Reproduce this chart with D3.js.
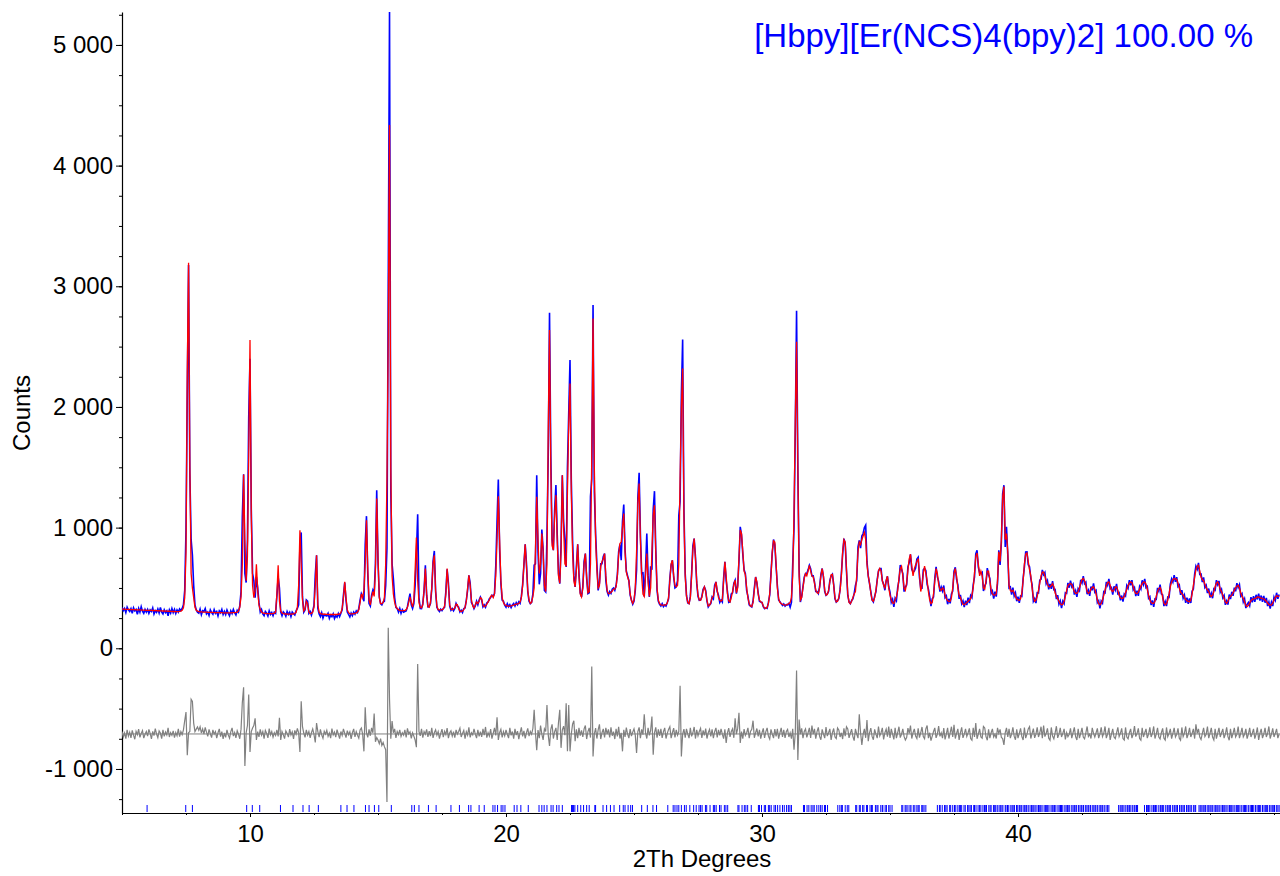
<!DOCTYPE html>
<html>
<head>
<meta charset="utf-8">
<script src="https://cdn.jsdelivr.net/npm/d3@7"></script>
<style>
  body { margin: 0; background: #fff; }
  svg { display: block; }
  text { font-family: "Liberation Sans", Arial, sans-serif; }
</style>
</head>
<body>
<svg id="chart" width="1280" height="876"></svg>
<script>
// grille 2Th commune aux trois courbes (pas de 0.05 deg a partir de 5)
var start2Th = 5, step2Th = 0.05;

// intensites observees (une ligne = un degre)
var obsCounts = [
  338,312,330,296,341,318,305,329,290,335,310,322,281,330,300,345,308,290,322,300, // 5
  322,290,318,305,335,284,312,298,326,292,338,300,285,320,296,310,270,318,292,330, // 6
  296,322,288,318,300,326,312,330,360,480,980,2115,3176,1450,900,771,520,360,320,298, // 7
  290,325,278,312,305,330,285,300,272,318,296,282,320,290,305,268,310,294,322,280, // 8
  306,280,318,292,270,310,288,322,295,276,315,300,352,470,1090,1443,620,545,900,1915, // 9
  2400,1150,620,560,420,591,500,380,300,322,285,270,305,292,268,310,280,296,270,300, // 10
  290,430,591,500,300,270,302,288,265,305,280,298,262,300,286,276,310,330,360,860, // 11
  960,430,300,318,400,390,290,305,275,310,356,610,771,330,285,262,295,250,280,272, // 12
  268,290,248,275,262,285,246,270,258,288,262,290,318,440,545,400,300,280,260,292, // 13
  270,300,282,310,296,330,400,453,430,390,860,1095,620,370,350,440,481,453,700,1310, // 14
  720,430,370,360,384,390,520,830,3000,5274,1300,700,578,420,340,329,300,330,290,320, // 15
  300,305,310,345,400,453,360,330,370,520,770,1111,420,330,329,370,480,688,440,343, // 16
  345,370,490,720,807,470,340,318,305,325,312,330,340,470,655,540,350,315,330,310, // 17
  330,372,350,340,301,315,296,330,335,400,480,605,540,380,360,328,350,390,360,400, // 18
  425,400,343,360,340,375,384,410,420,440,430,453,680,1050,1399,820,540,400,390,357, // 19
  340,370,345,362,338,360,372,350,378,360,385,372,430,530,690,862,700,470,390,370, // 20
  380,450,690,700,1434,800,530,620,984,820,480,467,930,1600,2781,1600,900,813,1150,1352, // 21
  950,620,536,850,1434,1050,900,674,1500,1950,2388,1400,900,600,509,680,862,620,460,426, // 22
  510,720,785,580,453,460,1260,1400,2844,1300,950,700,480,540,700,700,760,785,560,470, // 23
  440,470,455,490,500,480,520,610,800,860,730,1050,1191,820,640,600,560,440,400,365, // 24
  390,480,650,1250,1454,950,620,625,430,650,951,600,426,680,650,1150,1302,820,480,390, // 25
  365,350,370,345,360,350,380,410,580,690,730,590,500,509,560,1100,1215,2100,2559,1150, // 26
  620,440,375,370,430,620,850,909,760,540,430,398,400,430,490,509,480,390,343,360, // 27
  370,425,410,520,550,470,440,380,400,384,580,716,560,470,380,384,450,460,540,564, // 28
  453,520,720,1006,940,780,650,619,480,430,360,350,343,390,500,591,540,460,390,384, // 29
  380,345,329,335,330,380,440,620,790,901,860,680,520,400,385,370,355,368,350,362, // 30
  360,372,340,380,700,1000,1800,2797,1490,650,384,430,510,590,619,620,650,688,660,600, // 31
  600,550,470,470,453,510,610,661,590,470,439,450,470,560,600,613,530,410,384,395, // 32
  410,490,620,780,909,870,640,440,385,370,395,410,453,520,560,840,895,830,930,951, // 33
  1000,1020,720,600,536,470,400,384,430,470,570,640,661,661,560,530,481,560,597,510, // 34
  465,380,405,344,415,394,502,562,690,655,620,470,508,525,675,710,779,654,630,640, // 35
  665,740,754,590,498,498,650,662,645,530,490,428,350,410,425,582,675,592,555,470, // 36
  508,475,520,420,435,365,410,372,450,475,640,671,572,525,410,442,370,393,342,395, // 37
  358,420,375,438,420,525,590,782,812,672,625,620,630,475,518,538,665,610,580,455, // 38
  475,412,470,428,540,812,690,880,1280,1352,840,1006,780,500,508,445,503,432,460,390, // 39
  428,376,435,430,580,675,798,799,692,675,580,528,390,412,375,460,458,565,572,650, // 40
  610,628,535,560,488,534,492,556,485,488,408,440,365,392,332,390,370,460,455,542, // 41
  502,561,510,530,445,477,427,495,478,568,540,598,535,548,448,480,435,512,480,537, // 42
  465,478,378,395,330,392,375,468,460,550,523,575,492,502,445,513,483,534,452,460, // 43
  398,437,387,450,435,520,498,565,522,565,485,503,433,478,435,512,490,563,528,575, // 44
  502,512,415,428,358,397,344,410,405,500,473,528,452,442,350,388,350,425,422,532, // 45
  575,548,606,550,590,512,525,443,481,415,442,377,420,368,413,375,472,492,615,680, // 46
  655,708,612,615,548,588,505,522,457,495,420,456,415,492,482,565,528,558,465,488, // 47
  418,438,360,392,362,445,408,468,435,502,472,540,503,528,435,452,384,410,333,365, // 48
  380,353,423,380,432,384,443,405,453,395,437,384,435,378,418,350,382,330,382,350, // 49
  425,398,460,410,445 // 50
];

// intensites calculees
var calcCounts = [
  325,324,324,323,323,322,322,321,321,320,320,319,319,318,318,317,317,316,316,315, // 5
  315,315,314,314,313,313,312,312,311,311,310,310,309,309,308,308,307,307,306,306, // 6
  305,305,304,304,304,305,308,315,335,420,800,2300,3195,1500,620,500,420,340,315,308, // 7
  303,302,301,300,300,299,299,298,298,297,297,297,296,296,296,295,295,295,295,294, // 8
  294,294,294,294,294,294,295,295,296,297,300,310,340,430,700,1440,900,560,760,1600, // 9
  2554,1100,520,420,480,697,480,360,320,300,293,290,289,288,288,287,287,287,288,292, // 10
  300,450,688,390,310,292,287,285,284,283,283,283,283,284,285,288,298,340,520,978, // 11
  700,400,310,325,390,370,300,288,290,300,340,520,771,360,300,288,284,283,282,282, // 12
  281,281,280,280,280,280,280,280,281,282,285,295,330,420,550,420,320,295,288,286, // 13
  286,288,290,294,300,320,380,450,420,480,700,1061,650,400,360,420,470,430,650,1241, // 14
  750,420,370,370,380,420,700,1400,2600,4337,1500,600,450,380,345,330,320,315,312,312, // 15
  313,315,320,340,380,425,380,343,400,650,918,560,380,340,335,360,480,661,450,345, // 16
  340,380,500,700,771,480,350,320,318,318,320,325,350,450,661,520,360,325,320,325, // 17
  335,365,360,330,310,305,310,320,340,390,500,605,520,400,350,335,360,384,370,390, // 18
  420,410,355,345,350,365,384,400,430,440,420,450,600,900,1260,900,560,420,380,360, // 19
  355,350,350,350,352,355,358,362,365,368,372,385,420,520,700,862,680,480,400,372, // 20
  380,430,500,800,1255,900,620,700,950,800,520,470,700,1800,2637,1500,850,813,1100,1269, // 21
  900,600,540,800,1434,1000,700,680,1300,1863,2195,1300,800,560,510,650,862,600,450,426, // 22
  500,700,785,600,460,470,700,1600,2733,1500,900,650,500,520,680,720,740,785,600,480, // 23
  453,455,465,475,490,490,510,600,780,868,880,1000,1117,800,630,591,560,450,395,372, // 24
  400,500,800,1200,1365,900,600,450,430,600,785,550,430,500,800,1100,1186,800,500,400, // 25
  370,360,357,357,358,362,375,420,560,700,730,600,520,509,520,700,1400,2000,2319,1100, // 26
  600,430,380,370,420,600,820,909,750,550,440,400,398,420,480,509,470,400,350,357, // 27
  380,420,430,500,550,480,420,400,390,400,560,716,600,450,395,384,420,470,530,564, // 28
  460,500,750,980,950,800,640,610,500,420,370,350,345,380,480,591,550,450,400,385, // 29
  380,350,332,330,340,370,450,600,800,890,880,700,500,410,380,370,365,360,358,360, // 30
  365,370,380,420,600,1100,1900,2540,1500,600,400,420,500,580,619,600,640,688,640,600, // 31
  591,540,480,460,455,500,600,661,600,480,440,445,480,550,610,613,520,420,385,390, // 32
  420,480,600,800,900,880,650,450,380,370,390,420,450,470,600,800,880,860,900,930, // 33
  960,900,700,600,540,460,400,390,420,480,560,640,661,640,560,522,500,560,597,500, // 34
  440,400,375,372,400,426,480,580,660,680,600,500,480,540,650,740,779,680,600,660, // 35
  690,720,744,620,470,520,620,680,620,560,470,400,370,380,450,560,660,620,530,490, // 36
  480,500,490,440,410,395,388,390,420,500,620,661,600,500,440,420,390,365,360,370, // 37
  380,390,400,410,440,500,620,760,790,700,600,640,600,500,490,560,640,640,560,480, // 38
  450,440,440,450,560,800,720,900,1250,1340,900,950,800,520,480,470,481,460,430,410, // 39
  400,398,410,460,560,700,780,790,720,650,600,500,420,390,400,430,480,540,600,630, // 40
  630,600,560,530,510,509,520,536,510,460,430,410,390,370,360,365,390,430,480,520, // 41
  530,536,530,500,470,455,455,470,500,540,570,578,560,520,470,455,465,490,505,509, // 42
  490,450,400,370,360,370,400,440,480,520,545,550,520,480,470,485,505,509,480,440, // 43
  420,412,415,430,460,490,520,540,550,545,510,475,455,453,465,490,515,535,548,550, // 44
  530,490,440,400,380,372,372,390,430,470,495,503,480,420,375,360,370,400,450,510, // 45
  550,570,578,575,570,540,500,465,453,440,420,405,395,388,385,400,450,520,590,650, // 46
  680,688,640,590,570,560,530,500,485,470,440,428,440,470,510,540,550,530,490,468, // 47
  440,410,385,372,390,420,430,440,460,480,500,515,523,500,460,430,412,385,355,345, // 48
  355,375,395,405,410,412,418,425,425,420,415,412,410,400,390,375,362,358,360,375, // 49
  400,420,435,432,428 // 50
];

// courbe de difference (decalee sous zero)
var diffCounts = [
  -690,-735,-702,-748,-676,-728,-695,-742,-680,-720,-754,-688,-716,-670,-738,-705,-682,-745,-712,-690, // 5
  -728,-672,-705,-750,-688,-724,-665,-710,-740,-684,-702,-748,-676,-730,-694,-718,-660,-735,-700,-722, // 6
  -684,-740,-698,-726,-668,-732,-690,-715,-676,-600,-528,-887,-700,-690,-423,-440,-620,-690,-670,-652, // 7
  -680,-650,-702,-668,-712,-655,-695,-730,-672,-708,-740,-676,-712,-690,-745,-700,-668,-732,-690,-750, // 8
  -702,-738,-676,-718,-745,-690,-660,-728,-698,-742,-684,-712,-750,-670,-450,-323,-976,-700,-640,-383, // 9
  -860,-690,-660,-640,-580,-760,-690,-735,-672,-720,-690,-748,-680,-705,-742,-666,-718,-690,-736,-700, // 10
  -722,-676,-730,-575,-760,-690,-716,-748,-684,-705,-736,-670,-718,-692,-750,-680,-712,-664,-700,-860, // 11
  -440,-650,-702,-738,-676,-720,-690,-742,-700,-668,-716,-780,-620,-690,-736,-672,-718,-746,-688,-712, // 12
  -680,-730,-702,-744,-666,-718,-695,-736,-674,-712,-748,-690,-722,-668,-705,-740,-682,-716,-692,-750, // 13
  -700,-668,-735,-690,-720,-745,-676,-660,-712,-854,-489,-700,-738,-672,-725,-660,-700,-540,-775,-740, // 14
  -760,-790,-748,-805,-780,-815,-840,-1274,170,-423,-750,-603,-700,-668,-742,-690,-716,-676,-730,-700, // 15
  -720,-676,-738,-664,-710,-692,-746,-700,-728,-760,-820,-130,-690,-725,-668,-740,-690,-712,-672,-735, // 16
  -686,-728,-660,-742,-700,-676,-720,-690,-748,-705,-670,-736,-688,-715,-662,-745,-700,-684,-728,-690, // 17
  -740,-676,-712,-690,-662,-735,-705,-680,-748,-692,-720,-656,-738,-700,-718,-668,-712,-744,-676,-730, // 18
  -690,-735,-668,-720,-652,-740,-700,-728,-670,-748,-705,-660,-722,-571,-760,-700,-672,-738,-690,-725, // 19
  -676,-712,-745,-660,-722,-690,-748,-668,-720,-686,-752,-700,-655,-730,-684,-746,-700,-664,-728,-690, // 20
  -712,-665,-510,-700,-845,-678,-745,-640,-712,-760,-668,-690,-470,-720,-810,-672,-630,-748,-690,-660, // 21
  -760,-615,-510,-825,-676,-645,-720,-455,-854,-470,-854,-712,-628,-600,-770,-672,-745,-660,-724,-680, // 22
  -735,-668,-640,-752,-690,-660,-740,-152,-897,-710,-662,-748,-676,-630,-752,-700,-668,-738,-660,-712, // 23
  -672,-738,-655,-725,-690,-752,-668,-730,-650,-748,-700,-854,-676,-735,-658,-712,-745,-670,-728,-695, // 24
  -668,-720,-868,-690,-655,-745,-672,-716,-547,-700,-748,-660,-722,-680,-565,-882,-700,-655,-740,-672, // 25
  -725,-668,-742,-690,-660,-748,-705,-672,-650,-745,-700,-662,-738,-676,-720,-690,-311,-897,-712,-670, // 26
  -740,-668,-712,-745,-660,-730,-700,-652,-748,-676,-725,-690,-664,-742,-680,-722,-666,-748,-700,-672, // 27
  -730,-672,-745,-690,-660,-738,-676,-722,-668,-712,-748,-672,-785,-700,-662,-735,-690,-668,-742,-580, // 28
  -712,-664,-534,-785,-690,-748,-670,-722,-700,-660,-745,-690,-672,-600,-742,-700,-665,-730,-676,-748, // 29
  -700,-664,-742,-690,-660,-728,-752,-672,-710,-745,-670,-730,-668,-748,-700,-660,-735,-676,-742,-690, // 30
  -672,-735,-700,-748,-668,-841,-700,-185,-925,-590,-712,-664,-745,-690,-668,-738,-700,-660,-742,-640, // 31
  -712,-668,-748,-690,-655,-730,-758,-672,-712,-745,-652,-728,-700,-668,-760,-700,-665,-735,-748,-660, // 32
  -676,-735,-700,-752,-664,-728,-650,-668,-742,-705,-670,-732,-765,-668,-712,-745,-547,-700,-800,-712, // 33
  -668,-742,-595,-770,-700,-662,-730,-758,-672,-712,-745,-648,-726,-700,-660,-756,-700,-670,-732,-648, // 34
  -742,-668,-712,-755,-660,-745,-700,-650,-740,-712,-668,-730,-760,-740,-662,-705,-640,-748,-700,-668, // 35
  -728,-748,-664,-740,-700,-652,-732,-750,-668,-640,-745,-700,-765,-728,-690,-660,-742,-712,-645,-730, // 36
  -700,-745,-662,-755,-712,-660,-748,-700,-650,-735,-635,-748,-705,-668,-760,-700,-655,-742,-712,-668, // 37
  -730,-700,-664,-748,-762,-660,-735,-620,-750,-712,-668,-735,-745,-648,-660,-732,-762,-672,-745,-700, // 38
  -668,-735,-712,-748,-660,-705,-672,-738,-748,-800,-700,-660,-735,-668,-745,-712,-655,-728,-758,-672, // 39
  -745,-705,-664,-732,-760,-656,-745,-712,-668,-650,-748,-705,-666,-742,-712,-655,-735,-700,-650,-745, // 40
  -640,-732,-705,-664,-745,-762,-656,-728,-750,-700,-646,-742,-712,-660,-735,-705,-668,-756,-700,-732, // 41
  -712,-664,-745,-700,-655,-732,-760,-668,-745,-705,-660,-735,-750,-700,-648,-730,-712,-748,-660,-705, // 42
  -735,-700,-664,-745,-712,-656,-732,-705,-648,-745,-712,-660,-760,-712,-668,-735,-748,-700,-656,-732, // 43
  -705,-664,-748,-760,-656,-735,-750,-700,-668,-745,-712,-645,-732,-705,-664,-748,-762,-660,-735,-700, // 44
  -668,-745,-712,-656,-735,-705,-648,-748,-712,-660,-735,-752,-700,-664,-745,-760,-656,-732,-705,-668, // 45
  -748,-705,-660,-735,-712,-664,-745,-762,-656,-732,-705,-648,-745,-712,-660,-735,-705,-668,-748,-630, // 46
  -705,-668,-735,-756,-705,-660,-732,-712,-648,-745,-705,-660,-735,-760,-668,-748,-705,-660,-735,-700, // 47
  -668,-745,-712,-656,-732,-762,-668,-745,-705,-660,-735,-712,-648,-745,-705,-660,-735,-712,-668,-748, // 48
  -712,-660,-735,-705,-668,-748,-712,-656,-760,-705,-668,-745,-712,-660,-735,-705,-648,-748,-712,-664, // 49
  -735,-705,-668,-745,-712 // 50
];
var diffZero = -710;

// positions des reflexions (2Th)
var hklPos = [
  5.98, 7.49, 7.75, 9.87, 10.09, 10.38, 11.19, 11.68, 12.07, 12.31, 12.67, 13.55, 13.79, 14.06,
  14.51, 14.65, 14.86, 15.03, 15.52, 16.32, 16.42, 16.60, 16.97, 17.27, 17.85, 18.18, 18.54, 18.63,
  18.95, 19.15, 19.49, 19.57, 19.67, 19.81, 19.88, 19.96, 20.32, 20.43, 20.58, 20.87, 21.29, 21.40,
  21.49, 21.60, 21.76, 21.84, 21.98, 22.07, 22.20, 22.56, 22.60, 22.64, 22.69, 22.80, 22.92, 23.03,
  23.15, 23.25, 23.47, 23.50, 23.79, 23.93, 24.08, 24.22, 24.44, 24.58, 24.65, 24.77, 24.87, 24.94,
  25.30, 25.52, 25.74, 25.88, 26.32, 26.53, 26.60, 26.68, 26.75, 26.85, 26.97, 27.04, 27.18, 27.33,
  27.43, 27.54, 27.60, 27.66, 27.79, 27.84, 27.97, 28.10, 28.15, 28.21, 28.34, 28.40, 28.53, 28.59,
  28.66, 29.06, 29.10, 29.22, 29.31, 29.37, 29.44, 29.58, 29.86, 29.90, 29.98, 30.09, 30.14, 30.25,
  30.30, 30.36, 30.47, 30.53, 30.61, 30.70, 30.80, 30.87, 30.96, 31.03, 31.09, 31.15, 31.62, 31.66,
  31.76, 31.83, 31.92, 31.99, 32.04, 32.14, 32.22, 32.29, 32.35, 32.44, 32.48, 32.56, 32.96, 33.04,
  33.10, 33.14, 33.25, 33.33, 33.39, 33.66, 33.70, 33.80, 33.84, 33.93, 33.98, 34.08, 34.12, 34.22,
  34.28, 34.31, 34.43, 34.49, 34.53, 34.64, 34.70, 34.72, 34.81, 34.86, 34.95, 35.00, 35.08, 35.46,
  35.50, 35.59, 35.63, 35.70, 35.78, 35.82, 35.91, 35.97, 36.05, 36.10, 36.14, 36.24, 36.28, 36.33,
  36.40, 36.85, 36.93, 36.96, 37.04, 37.13, 37.18, 37.23, 37.33, 37.37, 37.45, 37.52, 37.57, 37.65,
  37.71, 37.75, 37.80, 37.89, 37.94, 38.03, 38.08, 38.13, 38.18, 38.27, 38.30, 38.36, 38.44, 38.50,
  38.55, 38.63, 38.69, 38.72, 38.77, 38.86, 38.91, 38.95, 39.04, 39.09, 39.13, 39.19, 39.26, 39.31,
  39.37, 39.41, 39.50, 39.53, 39.59, 39.64, 39.72, 39.77, 39.81, 39.86, 39.94, 39.99, 40.05, 40.08,
  40.13, 40.20, 40.26, 40.31, 40.34, 40.40, 40.47, 40.53, 40.58, 40.62, 40.67, 40.74, 40.80, 40.85,
  40.89, 40.94, 41.02, 41.07, 41.12, 41.16, 41.21, 41.29, 41.34, 41.40, 41.43, 41.48, 41.56, 41.61,
  41.66, 41.70, 41.75, 41.83, 41.88, 41.93, 41.96, 42.02, 42.10, 42.15, 42.20, 42.23, 42.29, 42.36,
  42.42, 42.47, 42.50, 42.56, 42.63, 42.69, 42.74, 42.77, 42.83, 42.90, 42.96, 43.01, 43.04, 43.10,
  43.17, 43.23, 43.28, 43.31, 43.37, 43.44, 43.50, 43.55, 43.93, 43.99, 44.03, 44.09, 44.14, 44.21,
  44.27, 44.30, 44.36, 44.41, 44.48, 44.54, 44.57, 44.63, 44.67, 44.94, 45.02, 45.05, 45.10, 45.15,
  45.23, 45.29, 45.32, 45.37, 45.42, 45.50, 45.56, 45.59, 45.64, 45.69, 45.77, 45.83, 45.86, 45.91,
  45.96, 46.04, 46.10, 46.13, 46.18, 46.23, 46.31, 46.37, 46.40, 46.45, 46.50, 46.58, 46.64, 46.67,
  46.72, 46.77, 46.85, 46.91, 46.94, 47.07, 47.12, 47.18, 47.23, 47.27, 47.32, 47.39, 47.45, 47.50,
  47.54, 47.59, 47.66, 47.72, 47.77, 47.81, 47.86, 47.93, 47.99, 48.04, 48.08, 48.13, 48.20, 48.26,
  48.31, 48.35, 48.40, 48.47, 48.53, 48.58, 48.62, 48.67, 48.74, 48.80, 48.85, 48.89, 48.94, 49.01,
  49.07, 49.12, 49.16, 49.21, 49.28, 49.34, 49.39, 49.43, 49.48, 49.55, 49.61, 49.66, 49.70, 49.75,
  49.82, 49.88, 49.93, 49.97, 50.02, 50.09, 50.15, 50.20
];

var yTicks = [-1000, 0, 1000, 2000, 3000, 4000, 5000];
var xTicks = [10, 20, 30, 40];
var titre = "[Hbpy][Er(NCS)4(bpy)2] 100.00 %";
var xTitre = "2Th Degrees";
var yTitre = "Counts";

//////////////////// MISE EN PAGE ////////////////////
// (pas de "top" : nom reserve par window)
var mLeft = 122, mRight = 1280, mTop = 12, mBottom = 813;
var x = d3.scaleLinear().domain([5, 50.234]).range([mLeft, mRight]);
var y = d3.scaleLinear().domain([-1365, 5273]).range([mBottom, mTop]);

var svg = d3.select("#chart");

svg.append("clipPath").attr("id", "zone")
  .append("rect").attr("x", mLeft).attr("y", 0).attr("width", mRight - mLeft).attr("height", mBottom);

// separateur de milliers avec espace, tiret simple pour le negatif
function fmt(v) {
  return (v < 0 ? "-" : "") + d3.format(",")(Math.abs(v)).replace(/,/g, " ");
}

// axe Y : graduations mineures puis majeures
svg.append("g").attr("transform", "translate(" + mLeft + ",0)")
  .call(d3.axisLeft(y).tickValues(d3.range(-1250, 5251, 250)).tickSize(3).tickFormat(""))
  .call(g => g.select(".domain").remove())
  .selectAll("line").attr("stroke", "#000");

var yAxis = svg.append("g").attr("transform", "translate(" + mLeft + ",0)")
  .call(d3.axisLeft(y).tickValues(yTicks).tickSize(6).tickSizeOuter(0).tickPadding(3).tickFormat(fmt));
yAxis.selectAll("text").attr("font-size", 24).attr("fill", "#000")
  .attr("font-family", "Liberation Sans, Arial, sans-serif");
yAxis.select(".domain").attr("stroke", "#000").attr("stroke-width", 1.2);

// axe X
svg.append("g").attr("transform", "translate(0," + mBottom + ")")
  .call(d3.axisBottom(x).tickValues(d3.range(5, 50.1, 2.5)).tickSize(2).tickFormat(""))
  .call(g => g.select(".domain").remove())
  .selectAll("line").attr("stroke", "#000");

var xAxis = svg.append("g").attr("transform", "translate(0," + mBottom + ")")
  .call(d3.axisBottom(x).tickValues(xTicks).tickSize(4).tickSizeOuter(0).tickPadding(8).tickFormat(d3.format("d")));
xAxis.selectAll("text").attr("font-size", 24).attr("fill", "#000")
  .attr("font-family", "Liberation Sans, Arial, sans-serif");
xAxis.select(".domain").attr("stroke", "#000").attr("stroke-width", 1.2);

//////////////////// COURBES ////////////////////
var tt = function(i) { return start2Th + i * step2Th; };
var ligne = d3.line().x((d, i) => x(tt(i))).y(d => y(d));

var plot = svg.append("g").attr("clip-path", "url(#zone)");

// ligne de reference de la difference
plot.append("line")
  .attr("x1", mLeft).attr("x2", mRight)
  .attr("y1", y(diffZero)).attr("y2", y(diffZero))
  .attr("stroke", "#808080").attr("stroke-width", 1);

plot.append("path").datum(diffCounts)
  .attr("d", ligne).attr("fill", "none")
  .attr("stroke", "#808080").attr("stroke-width", 1.2);

plot.append("path").datum(obsCounts)
  .attr("d", ligne).attr("fill", "none")
  .attr("stroke", "#0000ff").attr("stroke-width", 1.6);

plot.append("path").datum(calcCounts)
  .attr("d", ligne).attr("fill", "none")
  .attr("stroke", "#ff0000").attr("stroke-width", 1.3);

// barres des reflexions
plot.selectAll(".hkl").data(hklPos).enter().append("line")
  .attr("class", "hkl")
  .attr("x1", d => x(d)).attr("x2", d => x(d))
  .attr("y1", mBottom - 8).attr("y2", mBottom - 1)
  .attr("stroke", "#0000ff").attr("stroke-width", 1);

//////////////////// TEXTES ////////////////////
svg.append("text").text(titre)
  .attr("x", 1253).attr("y", 47).attr("text-anchor", "end")
  .attr("font-size", 33).attr("fill", "#0000ff");

svg.append("text").text(xTitre)
  .attr("x", (mLeft + mRight) / 2 + 1).attr("y", 867).attr("text-anchor", "middle")
  .attr("font-size", 24).attr("fill", "#000");

svg.append("text").text(yTitre)
  .attr("transform", "translate(30,413) rotate(-90)").attr("text-anchor", "middle")
  .attr("font-size", 24).attr("fill", "#000");
</script>
</body>
</html>
